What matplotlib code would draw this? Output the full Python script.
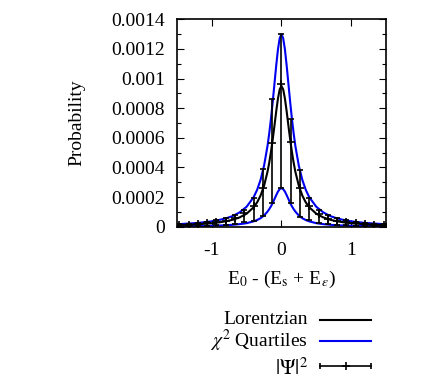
import numpy as np
import matplotlib
matplotlib.use("Agg")
import matplotlib.pyplot as plt
from matplotlib.lines import Line2D
from matplotlib.ticker import MultipleLocator, FixedLocator

plt.rcParams['font.family'] = ['Liberation Serif', 'DejaVu Serif']
plt.rcParams['mathtext.fontset'] = 'stix'

# smooth curves (probability, 1e-6 units)
x_curve = [-1.5, -1.2, -1.0, -0.9, -0.8, -0.7, -0.6, -0.5, -0.4, -0.35, -0.3, -0.25,
           -0.2, -0.175, -0.15, -0.125, -0.1, -0.075, -0.05, -0.025, 0.0,
           0.025, 0.05, 0.075, 0.1, 0.125, 0.15, 0.175, 0.2,
           0.25, 0.3, 0.35, 0.4, 0.5, 0.6, 0.7, 0.8, 0.9, 1.0, 1.2, 1.5]
lorentz = [10.7, 16.6, 23.7, 29.1, 36.5, 47, 63, 88, 131, 164, 210, 276,
           371, 433, 506, 590, 683, 779, 865, 927, 950,
           927, 865, 779, 683, 590, 506, 433, 371,
           276, 210, 164, 131, 88, 63, 47, 36.5, 29.1, 23.7, 16.6, 10.7]
chi_hi = [16.5, 25.6, 36.5, 45, 56, 72, 97, 135, 199, 248, 316, 411,
          545, 631, 731, 844, 966, 1088, 1197, 1272, 1300,
          1272, 1197, 1088, 966, 844, 731, 631, 545,
          411, 316, 248, 199, 135, 97, 72, 56, 45, 36.5, 25.6, 16.5]
chi_lo = [2.9, 4.5, 6.5, 8, 10, 13, 17.3, 24, 36, 45, 57.5, 75.5,
          102, 119, 138, 161, 187, 213, 237, 254, 260,
          254, 237, 213, 187, 161, 138, 119, 102,
          75.5, 57.5, 45, 36, 24, 17.3, 13, 10, 8, 6.5, 4.5, 2.9]

# |Psi|^2 points with quartile error bars (1e-6 units)
x_pts = [-1.467, -1.333, -1.2, -1.067, -0.933, -0.8, -0.667, -0.533, -0.4, -0.267, -0.133,
         0.0, 0.133, 0.267, 0.4, 0.533, 0.667, 0.8, 0.933, 1.067, 1.2, 1.333, 1.467]
psi = [12, 14, 18, 23, 30, 40, 57, 90, 140, 264, 568,
       960, 575, 259, 137, 85, 55, 40, 30, 23, 18, 14, 12]
psi_lo = [4, 5, 6, 8, 10, 13, 20, 30, 40, 72, 158,
          260, 162, 63, 45, 28, 19, 13, 10, 8, 6, 5, 4]
psi_hi = [17, 21, 27, 34, 43, 57, 79, 113, 196, 387, 863,
          1300, 727, 383, 192, 115, 77, 57, 43, 34, 27, 21, 17]

y_ticks = [0, 0.0002, 0.0004, 0.0006, 0.0008, 0.001, 0.0012, 0.0014]
y_labels = ['0', '0.0002', '0.0004', '0.0006', '0.0008', '0.001', '0.0012', '0.0014']
x_ticks = [-1, 0, 1]
x_labels = ['-1', '0', '1']

blue = '#0000f0'
fs = 14

xc = np.array(x_curve)
s = 1e-6
xp = np.array(x_pts)
yp = np.array(psi) * s
err = [yp - np.array(psi_lo) * s, np.array(psi_hi) * s - yp]

fig = plt.figure(figsize=(4.36, 3.82), dpi=100)
ax = fig.add_axes([0.406, 0.4065, 0.479, 0.543])

ax.plot(xc, np.array(chi_hi) * s, color=blue, lw=1.5, zorder=2)
ax.plot(xc, np.array(chi_lo) * s, color=blue, lw=1.5, zorder=2)
ax.errorbar(xp, yp, yerr=err, fmt='+', color='black', ms=6, mew=1.2,
            elinewidth=1.2, capsize=2.2, capthick=1.2, zorder=3)
ax.plot(xc, np.array(lorentz) * s, color='black', lw=1.5, zorder=4)

ax.set_xlim(-1.5, 1.5)
ax.set_ylim(0, 0.0014)
ax.xaxis.set_major_locator(FixedLocator(x_ticks))
ax.set_xticklabels(x_labels)
ax.yaxis.set_major_locator(FixedLocator(y_ticks))
ax.set_yticklabels(y_labels)
ax.yaxis.set_minor_locator(MultipleLocator(0.0001))
ax.tick_params(which='both', direction='in', top=True, right=True, labelsize=fs, width=0.8)
ax.tick_params(which='major', length=5)
ax.tick_params(which='minor', length=2.8)
ax.tick_params(axis='y', which='major', pad=8.5)
ax.tick_params(axis='x', which='major', pad=11)
for sp in ax.spines.values():
    sp.set_linewidth(1.2)

ax.set_xlabel('E$_0$ - (E$_\\mathrm{s}$ + E$_\\varepsilon$)', fontsize=fs, labelpad=7)
ax.set_ylabel('Probability', fontsize=fs, labelpad=19)

# gnuplot-style key below the plot, text right-aligned, sample on the right
rows = [0.163, 0.107, 0.042]
tx = 307.7 / 436
l0, l1 = 320 / 436, 371 / 436
fig.text(tx, rows[0], 'Lorentzian', ha='right', va='center', fontsize=fs)
fig.add_artist(Line2D([l0, l1], [rows[0], rows[0]], color='black', lw=1.5))
fig.text(tx, rows[1], '$\\chi^2$ Quartiles', ha='right', va='center', fontsize=fs)
fig.add_artist(Line2D([l0, l1], [rows[1], rows[1]], color=blue, lw=1.5))
fig.text(tx, rows[2] - 0.008, '$|\\Psi|^2$', ha='right', va='center', fontsize=fs + 1)
ly = rows[2]
fig.add_artist(Line2D([l0, l1], [ly, ly], color='black', lw=1.2))
fig.add_artist(Line2D([l0, l1], [ly, ly], ls='none', marker='|', ms=4.5, mew=1.2, color='black'))
fig.add_artist(Line2D([(l0 + l1) / 2], [ly], ls='none', marker='+', ms=6, mew=1.2, color='black'))

fig.savefig('out.png', dpi=100)
